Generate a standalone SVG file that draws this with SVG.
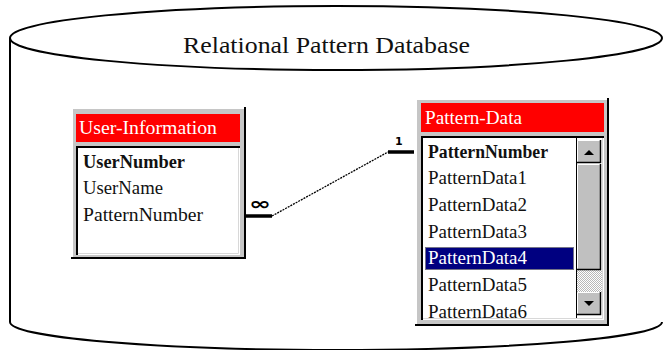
<svg xmlns="http://www.w3.org/2000/svg" width="665" height="350" viewBox="0 0 665 350">
  <defs>
    <style>
      .cyl{fill:none;stroke:#000;stroke-width:2}
      .title{font-family:"Liberation Serif","Times New Roman",serif;font-size:24px;fill:#111}
      .frame{fill:#c6c6c6}
      .hl{fill:none;stroke:#fff;stroke-width:2}
      .sh{fill:none;stroke:#000;stroke-width:2}
      .hdr{fill:#ff0000}
      .hdrtxt{font-family:"Liberation Serif","Times New Roman",serif;font-size:18px;fill:#fff}
      .row{font-family:"Liberation Serif","Times New Roman",serif;font-size:18px;fill:#111}
      .key{font-weight:bold}
      .list{fill:#fff}
      .sunk{fill:none;stroke:#000;stroke-width:2}
      .sunk2{fill:none;stroke:#d8d8d8;stroke-width:1}
      .btn{fill:#c0c0c0}
      .btnhl{fill:none;stroke:#fff;stroke-width:1}
      .btnsh{fill:none;stroke:#000;stroke-width:1.5}
      .sel{fill:#000080}
      .focus{fill:none;stroke:#e8e890;stroke-width:1;stroke-dasharray:1 1}
      .seltxt{fill:#fff}
      .bar{stroke:#000;stroke-width:3.5}
      .rel{stroke:#000;stroke-width:1.3;stroke-dasharray:2 1;fill:none}
      .card{font-family:"DejaVu Sans",sans-serif;font-weight:bold;fill:#000}
    </style>
    <pattern id="dither" width="2" height="2" patternUnits="userSpaceOnUse">
      <rect width="2" height="2" fill="#fff"/>
      <rect width="1" height="1" fill="#b8b8b8"/>
      <rect x="1" y="1" width="1" height="1" fill="#b8b8b8"/>
    </pattern>
    <clipPath id="pdClip">
      <rect x="423" y="138" width="153" height="180"/>
    </clipPath>
  </defs>

  <!-- database cylinder -->
  <g id="database">
    <ellipse class="cyl" cx="336" cy="38" rx="326" ry="32"/>
    <path class="cyl" d="M10,38 V322 A326,28 0 0 0 662,322"/>
    <text class="title" x="183" y="53" textLength="287" lengthAdjust="spacingAndGlyphs">Relational Pattern Database</text>
  </g>

  <!-- User-Information table -->
  <g id="user-information">
    <rect class="frame" x="71" y="107" width="175" height="152"/>
    <path class="hl" d="M72,258 V108 H245"/>
    <path class="sh" d="M71,258 H245 V107"/>
    <rect class="hdr" x="76" y="114" width="164" height="28"/>
    <text class="hdrtxt" x="79" y="134" textLength="138" lengthAdjust="spacingAndGlyphs">User-Information</text>
    <rect class="list" x="76" y="146" width="164" height="109"/>
    <path class="sunk" d="M77,255 V147 H240"/>
    <path class="sunk2" d="M78,253.5 H238.5 V148"/>
    <text class="row key" x="83" y="168" textLength="102" lengthAdjust="spacingAndGlyphs">UserNumber</text>
    <text class="row" x="83" y="194" textLength="80" lengthAdjust="spacingAndGlyphs">UserName</text>
    <text class="row" x="83" y="221" textLength="120" lengthAdjust="spacingAndGlyphs">PatternNumber</text>
  </g>

  <!-- Pattern-Data table -->
  <g id="pattern-data">
    <rect class="frame" x="415" y="98" width="194" height="228"/>
    <path class="hl" d="M416,325 V99 H608"/>
    <path class="sh" d="M415,325 H608 V98"/>
    <rect class="hdr" x="421" y="103" width="183" height="29"/>
    <text class="hdrtxt" x="425" y="124" textLength="97" lengthAdjust="spacingAndGlyphs">Pattern-Data</text>
    <rect class="list" x="421" y="136" width="183" height="184"/>
    <path class="sunk" d="M422,320 V137 H604"/>
    <path class="sunk2" d="M423,318.5 H602.5 V138"/>
    <rect class="sel" x="425" y="247" width="149" height="23"/>
    <rect class="focus" x="425.5" y="247.5" width="148" height="22"/>
    <g clip-path="url(#pdClip)">
      <text class="row key" x="428" y="158" textLength="120" lengthAdjust="spacingAndGlyphs">PatternNumber</text>
      <text class="row" x="428" y="184" textLength="99" lengthAdjust="spacingAndGlyphs">PatternData1</text>
      <text class="row" x="428" y="211" textLength="99" lengthAdjust="spacingAndGlyphs">PatternData2</text>
      <text class="row" x="428" y="238" textLength="99" lengthAdjust="spacingAndGlyphs">PatternData3</text>
      <text class="row seltxt" x="428" y="264" textLength="99" lengthAdjust="spacingAndGlyphs">PatternData4</text>
      <text class="row" x="428" y="291" textLength="99" lengthAdjust="spacingAndGlyphs">PatternData5</text>
      <text class="row" x="428" y="318" textLength="99" lengthAdjust="spacingAndGlyphs">PatternData6</text>
    </g>
    <!-- vertical scrollbar -->
    <line x1="576.5" y1="138" x2="576.5" y2="318" stroke="#000" stroke-width="1"/>
    <rect x="577" y="270" width="25" height="22" fill="url(#dither)"/>
    <rect class="btn" x="577" y="140" width="24" height="23"/>
    <path class="btnhl" d="M577.5,162 V140.5 H600"/>
    <path class="btnsh" d="M577,162.5 H600.5 V140"/>
    <polygon points="584,155 594,155 589,150" fill="#000"/>
    <rect class="btn" x="577" y="164" width="24" height="106"/>
    <path class="btnhl" d="M577.5,269 V164.5 H600"/>
    <path class="btnsh" d="M577,269.5 H600.5 V164"/>
    <rect class="btn" x="577" y="292" width="24" height="23"/>
    <path class="btnhl" d="M577.5,314 V292.5 H600"/>
    <path class="btnsh" d="M577,314.5 H600.5 V292"/>
    <polygon points="584,301 594,301 589,306" fill="#000"/>
  </g>

  <!-- relationship: many UserInformation.PatternNumber to one PatternData.PatternNumber -->
  <g id="connectors">
    <line class="bar" x1="246" y1="216" x2="272" y2="216"/>
    <path class="rel" d="M272,216 L388,152"/>
    <line class="bar" x1="388" y1="152" x2="414" y2="152"/>
    <text class="card" x="249" y="210" font-size="18" textLength="22" lengthAdjust="spacingAndGlyphs">∞</text>
    <text class="card" x="395" y="145" font-size="11">1</text>
  </g>
</svg>
